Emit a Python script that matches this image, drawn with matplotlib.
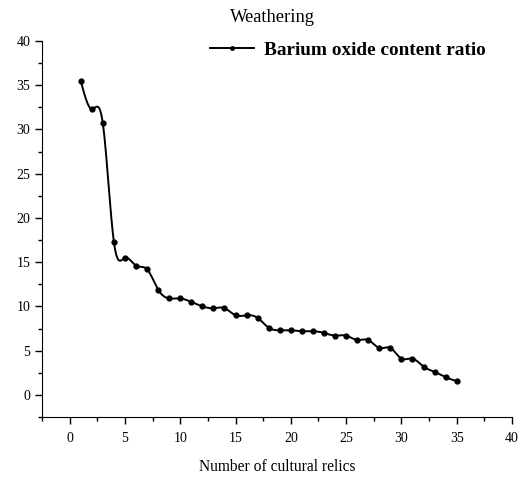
import numpy as np
import matplotlib
matplotlib.use("Agg")
import matplotlib.pyplot as plt
from matplotlib.ticker import MultipleLocator

plt.rcParams['font.family'] = ['Liberation Serif', 'DejaVu Serif']

relic_index = list(range(1, 36))
barium_ratio = [35.5, 32.3, 30.7, 17.3, 15.5, 14.6, 14.2, 11.9, 10.9, 10.9,
                10.5, 10.0, 9.8, 9.8, 9.0, 9.0, 8.7, 7.6, 7.3, 7.3,
                7.2, 7.2, 7.0, 6.7, 6.7, 6.2, 6.2, 5.3, 5.3, 4.1,
                4.1, 3.2, 2.6, 2.0, 1.55]
series_label = "Barium oxide content ratio"
title_text = "Weathering"
xlabel_text = "Number of cultural relics"


def natural_spline(x, y, n=30):
    x = np.asarray(x, float); y = np.asarray(y, float)
    m = len(x); h = np.diff(x)
    A = np.zeros((m, m)); b = np.zeros(m)
    A[0, 0] = A[-1, -1] = 1
    for i in range(1, m - 1):
        A[i, i - 1] = h[i - 1]; A[i, i] = 2 * (h[i - 1] + h[i]); A[i, i + 1] = h[i]
        b[i] = 6 * ((y[i + 1] - y[i]) / h[i] - (y[i] - y[i - 1]) / h[i - 1])
    M = np.linalg.solve(A, b)
    xs, ys = [], []
    for i in range(m - 1):
        t = np.linspace(x[i], x[i + 1], n, endpoint=(i == m - 2))
        a = x[i + 1] - t; c = t - x[i]
        s = (M[i] * a**3 + M[i + 1] * c**3) / (6 * h[i]) \
            + (y[i] / h[i] - M[i] * h[i] / 6) * a + (y[i + 1] / h[i] - M[i + 1] * h[i] / 6) * c
        xs.append(t); ys.append(s)
    return np.concatenate(xs), np.concatenate(ys)


fig = plt.figure(figsize=(5.3, 4.79), dpi=100)
ax = fig.add_axes([42 / 530, (479 - 417) / 479, (512 - 42) / 530, (417 - 41) / 479])

sx, sy = natural_spline(relic_index, barium_ratio)
ax.plot(sx, sy, color='black', lw=1.4)
ax.plot(relic_index, barium_ratio, 'o', color='black', ms=3.5)
ax.plot([], [], '-o', color='black', lw=1.4, ms=2.5, label=series_label)

ax.set_xlim(-2.5, 40)
ax.set_ylim(-2.5, 40)
ax.xaxis.set_major_locator(MultipleLocator(5))
ax.xaxis.set_minor_locator(MultipleLocator(2.5))
ax.yaxis.set_major_locator(MultipleLocator(5))
ax.yaxis.set_minor_locator(MultipleLocator(2.5))
for s in ['top', 'right']:
    ax.spines[s].set_visible(False)
ax.tick_params(which='major', direction='out', length=5, width=1, labelsize=10)
ax.tick_params(axis='x', which='major', pad=6)
ax.tick_params(which='minor', direction='out', length=3, width=1)

fig.text(272 / 530, 1 - 18 / 479, title_text, fontsize=13.3, ha='center', va='center')
ax.set_xlabel(xlabel_text, fontsize=11.2, labelpad=10)
leg = fig.legend(loc='center left', bbox_to_anchor=(210 / 530, 1 - 50 / 479),
                 bbox_transform=fig.transFigure, frameon=False, borderpad=0,
                 borderaxespad=0, prop={'weight': 'bold', 'size': 13.9},
                 handlelength=2.3, handletextpad=0.5)

fig.savefig("out.png", dpi=100)
